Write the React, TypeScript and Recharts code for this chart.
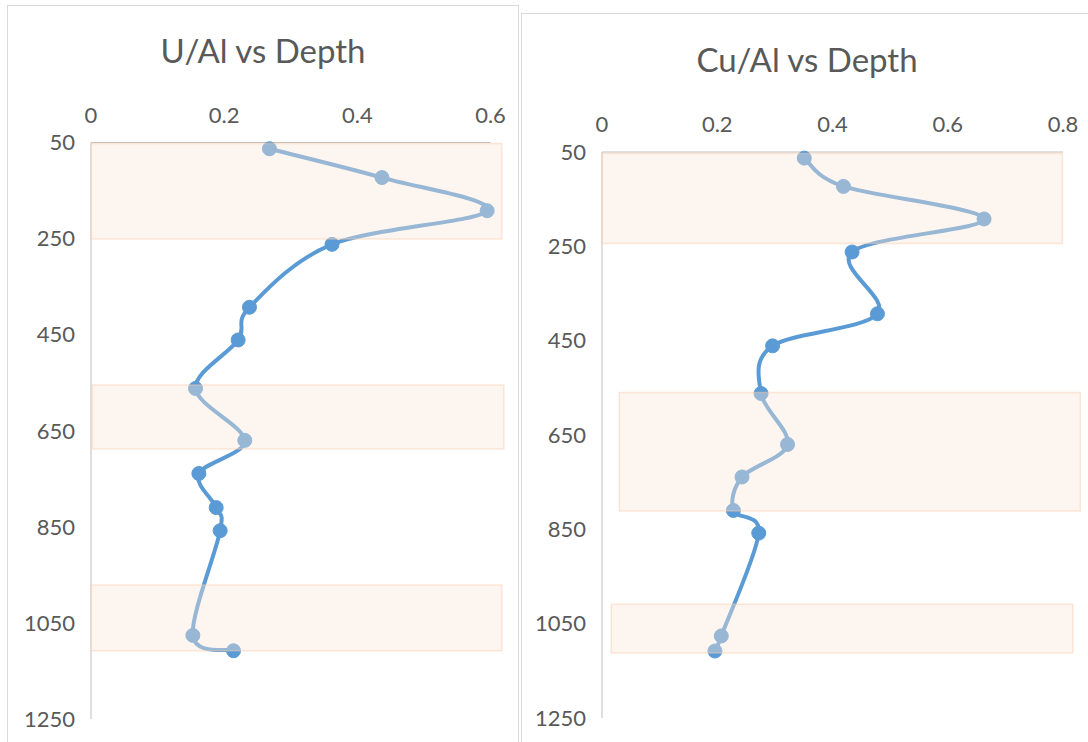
import React from 'react';
import { LineChart, Line, XAxis, YAxis, ReferenceArea } from 'recharts';

// depth of each sample (shared by both panels)
const depths = [63, 123, 192, 262, 393, 461, 562, 670, 739, 810, 858, 1076, 1108];
const uAl = [0.268, 0.437, 0.595, 0.362, 0.238, 0.221, 0.157, 0.231, 0.162, 0.188, 0.194, 0.153, 0.214];
const cuAl = [0.351, 0.419, 0.663, 0.434, 0.478, 0.296, 0.276, 0.322, 0.243, 0.228, 0.272, 0.207, 0.196];

const depthTicks = [50, 250, 450, 650, 850, 1050, 1250];
const uTicks = [0, 0.2, 0.4, 0.6];
const cuTicks = [0, 0.2, 0.4, 0.6, 0.8];

// highlighted depth intervals (value units)
const uBands = [
  { x1: 0, x2: 0.617, y1: 52, y2: 251 },
  { x1: 0.002, x2: 0.62, y1: 555, y2: 688 },
  { x1: 0, x2: 0.617, y1: 971, y2: 1108 },
];
const cuBands = [
  { x1: 0, x2: 0.799, y1: 53, y2: 244 },
  { x1: 0.03, x2: 0.83, y1: 560, y2: 811 },
  { x1: 0.016, x2: 0.817, y1: 1009, y2: 1112 },
];

const BLUE = '#5B9BD5';
const TEXT = '#595959';
const FONT = 'Lato, "Open Sans", sans-serif';

// Excel-like smoothing (Catmull-Rom through the points)
function catmullRom(context: any) {
  let pts: number[][] = [];
  return {
    areaStart() {},
    areaEnd() {},
    lineStart() {
      pts = [];
    },
    point(x: number, y: number) {
      pts.push([+x, +y]);
    },
    lineEnd() {
      const n = pts.length;
      if (!n) return;
      context.moveTo(pts[0][0], pts[0][1]);
      for (let i = 0; i < n - 1; i++) {
        const p0 = pts[i - 1] || pts[i];
        const p1 = pts[i];
        const p2 = pts[i + 1];
        const p3 = pts[i + 2] || p2;
        context.bezierCurveTo(
          p1[0] + (p2[0] - p0[0]) / 6,
          p1[1] + (p2[1] - p0[1]) / 6,
          p2[0] - (p3[0] - p1[0]) / 6,
          p2[1] - (p3[1] - p1[1]) / 6,
          p2[0],
          p2[1]
        );
      }
    },
  };
}

type PanelProps = {
  title: string;
  values: number[];
  bands: { x1: number; x2: number; y1: number; y2: number }[];
  xTicks: number[];
  xMax: number;
  left: number;
  top: number;
  width: number;
  height: number;
  margin: { top: number; right: number; bottom: number; left: number };
  titleTop: number;
};

function Panel({ title, values, bands, xTicks, xMax, left, top, width, height, margin, titleTop }: PanelProps) {
  const data = depths.map((d, i) => ({ depth: d, value: values[i] }));
  return (
    <div
      style={{
        position: 'absolute',
        left,
        top,
        width,
        height,
        border: '1px solid #d9d9d9',
        boxSizing: 'border-box',
        background: '#fff',
      }}
    >
      <div
        style={{
          position: 'absolute',
          left: 0,
          width: '100%',
          top: titleTop,
          textAlign: 'center',
          fontFamily: FONT,
          fontSize: 33,
          color: TEXT,
        }}
      >
        {title}
      </div>
      <div style={{ position: 'absolute', left: -1, top: -1 }}>
        <LineChart width={width} height={height} data={data} layout="vertical" margin={margin}>
          <XAxis
            type="number"
            orientation="top"
            domain={[0, xMax]}
            ticks={xTicks}
            height={30}
            tickLine={false}
            tickSize={8}
            tickMargin={12}
            axisLine={{ stroke: '#bfbfbf' }}
            tick={{ fill: TEXT, fontSize: 22, fontFamily: FONT }}
          />
          <YAxis
            type="number"
            dataKey="depth"
            domain={[50, 1250]}
            ticks={depthTicks}
            width={60}
            tickLine={false}
            tickSize={8}
            tickMargin={8}
            axisLine={{ stroke: '#bfbfbf' }}
            tick={{ fill: TEXT, fontSize: 22, fontFamily: FONT }}
          />
          <Line
            dataKey="value"
            type={catmullRom as any}
            stroke={BLUE}
            strokeWidth={4}
            dot={{ r: 7, fill: BLUE, stroke: BLUE, strokeWidth: 1 }}
            isAnimationActive={false}
          />
          {bands.map((b, i) => (
            <ReferenceArea
              key={i}
              x1={b.x1}
              x2={b.x2}
              y1={b.y1}
              y2={b.y2}
              ifOverflow="visible"
              fill="#FBE4D5"
              fillOpacity={0.38}
              stroke="#F8CBAD"
              strokeOpacity={0.45}
              strokeWidth={1.5}
              zIndex={700}
            />
          ))}
        </LineChart>
      </div>
    </div>
  );
}

export default function App() {
  return (
    <div
      style={{
        position: 'absolute',
        left: 0,
        top: 0,
        width: 1088,
        height: 742,
        overflow: 'hidden',
        background: '#fff',
      }}
    >
      <Panel
        title="U/Al vs Depth"
        values={uAl}
        bands={uBands}
        xTicks={uTicks}
        xMax={0.6}
        left={7}
        top={5}
        width={512}
        height={760}
        margin={{ top: 107.5, right: 28.5, bottom: 46, left: 24 }}
        titleTop={24}
      />
      <Panel
        title="Cu/Al vs Depth"
        values={cuAl}
        bands={cuBands}
        xTicks={cuTicks}
        xMax={0.8}
        left={521}
        top={13}
        width={572}
        height={760}
        margin={{ top: 109, right: 30, bottom: 55, left: 21 }}
        titleTop={25}
      />
    </div>
  );
}
